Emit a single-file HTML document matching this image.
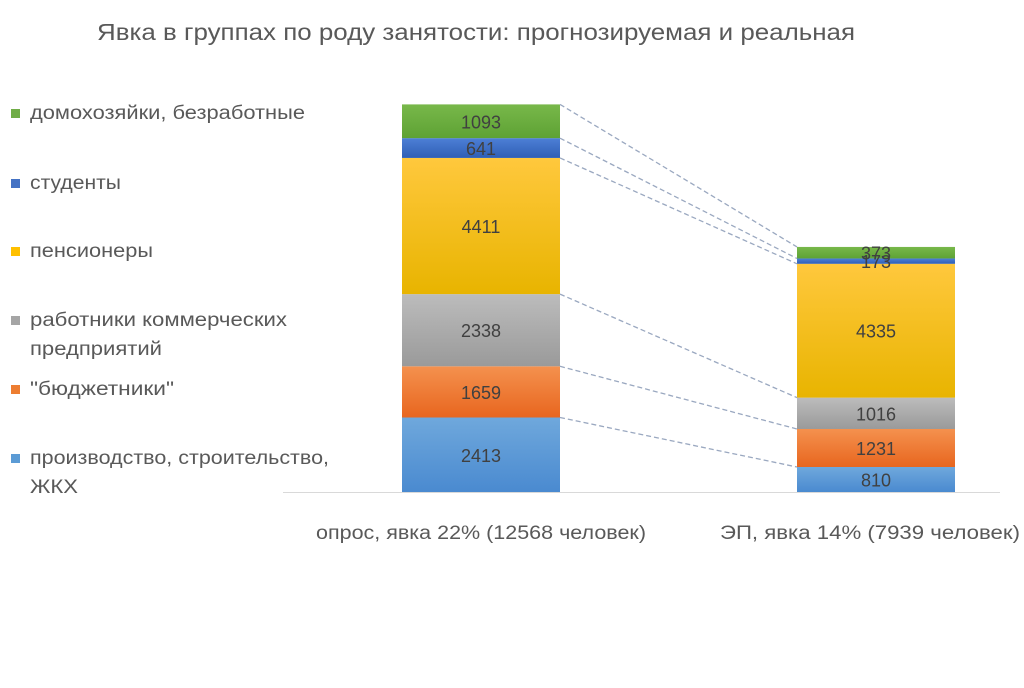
<!DOCTYPE html>
<html><head><meta charset="utf-8">
<style>
body{margin:0;background:#fff;width:1024px;height:683px;overflow:hidden;font-family:"Liberation Sans","Noto Sans CJK SC",sans-serif;}
</style></head>
<body>
<svg id="chart" width="1024" height="683" xmlns="http://www.w3.org/2000/svg">
<defs>
<linearGradient id="g0" x1="0" y1="0" x2="0" y2="1"><stop offset="0" stop-color="#6fa8dc"/><stop offset="1" stop-color="#4a8ad0"/></linearGradient>
<linearGradient id="g1" x1="0" y1="0" x2="0" y2="1"><stop offset="0" stop-color="#f4914e"/><stop offset="1" stop-color="#e8661f"/></linearGradient>
<linearGradient id="g2" x1="0" y1="0" x2="0" y2="1"><stop offset="0" stop-color="#bcbcbc"/><stop offset="1" stop-color="#9a9a9a"/></linearGradient>
<linearGradient id="g3" x1="0" y1="0" x2="0" y2="1"><stop offset="0" stop-color="#ffc83d"/><stop offset="1" stop-color="#e8b400"/></linearGradient>
<linearGradient id="g4" x1="0" y1="0" x2="0" y2="1"><stop offset="0" stop-color="#4d7fd6"/><stop offset="1" stop-color="#2f5fb5"/></linearGradient>
<linearGradient id="g5" x1="0" y1="0" x2="0" y2="1"><stop offset="0" stop-color="#78b84a"/><stop offset="1" stop-color="#5ea234"/></linearGradient>
</defs>
<text x="97" y="40" textLength="758" lengthAdjust="spacingAndGlyphs" font-size="23" fill="#595959">Явка в группах по роду занятости: прогнозируемая и реальная</text>
</svg>
<script>
const categories = ["опрос, явка 22% (12568 человек)", "ЭП, явка 14% (7939 человек)"];
const seriesNames = ["производство, строительство, ЖКХ", "\"бюджетники\"", "работники коммерческих предприятий", "пенсионеры", "студенты", "домохозяйки, безработные"];
const surveyValues = [2413, 1659, 2338, 4411, 641, 1093];
const electionValues = [810, 1231, 1016, 4335, 173, 373];
const legendColors = ["#5b9bd5", "#ed7d31", "#a5a5a5", "#ffc000", "#4472c4", "#70ad47"];

const svg = document.getElementById('chart');
const NS = "http://www.w3.org/2000/svg";
const baseY = 492, scale = 388 / 12568;
const yPos = v => baseY - v * scale;
const barX = [402, 797], barW = 158;
function mk(tag, attrs){const e=document.createElementNS(NS,tag);for(const k in attrs)e.setAttribute(k,attrs[k]);svg.appendChild(e);return e;}

const all = [surveyValues, electionValues];
const tops = [[], []];
all.forEach((vals, b) => {
  let cum = 0;
  vals.forEach((v, i) => {
    const y1 = yPos(cum + v), y0 = yPos(cum);
    const r = mk('rect', {x: barX[b], y: y1, width: barW, height: y0 - y1, fill: 'url(#g' + i + ')'});
    
    
    tops[b].push(y1);
    cum += v;
  });
});
all.forEach((vals, b) => {
  let cum = 0;
  vals.forEach((v, i) => {
    const cy = yPos(cum + v / 2);
    const t = mk('text', {x: barX[b] + barW / 2, y: cy + 7, 'text-anchor': 'middle', 'font-size': 18, fill: '#404040'});
    t.textContent = v;
    
    
    cum += v;
  });
});
for (let i = 0; i < seriesNames.length; i++) {
  const l = mk('line', {x1: barX[0] + barW, y1: tops[0][i], x2: barX[1], y2: tops[1][i], stroke: '#9aa8c0', 'stroke-width': 1.3, 'stroke-dasharray': '5,3'});
  
  
}
const ax = mk('line', {x1: 283, y1: baseY + 0.5, x2: 1000, y2: baseY + 0.5, stroke: '#d9d9d9', 'stroke-width': 1});


const catX = [316, 720], catW = [330, 300];
categories.forEach((c, i) => {
  const t = mk('text', {x: catX[i], y: 539, textLength: catW[i], lengthAdjust: 'spacingAndGlyphs', 'font-size': 19, fill: '#595959'});
  t.textContent = c;
  
  
});
const legendY = [113, 183, 251, 320, 389, 458];
const legendLines = [["домохозяйки, безработные"], ["студенты"], ["пенсионеры"], ["работники коммерческих", "предприятий"], ["\"бюджетники\""], ["производство, строительство,", "ЖКХ"]];
const legendWidths = [[275], [91], [123], [257, 132], [144], [299, 48]];
const legendColorIdx = [5, 4, 3, 2, 1, 0];
legendY.forEach((y, k) => {
  const s = mk('rect', {x: 11, y: y - 4, width: 9, height: 9, fill: legendColors[legendColorIdx[k]]});
  
  
  legendLines[k].forEach((ln, j) => {
    const t = mk('text', {x: 30, y: y + 6 + j * 29, textLength: legendWidths[k][j], lengthAdjust: 'spacingAndGlyphs', 'font-size': 19, fill: '#595959'});
    t.textContent = ln;
    
    
  });
});
</script>
</body></html>
